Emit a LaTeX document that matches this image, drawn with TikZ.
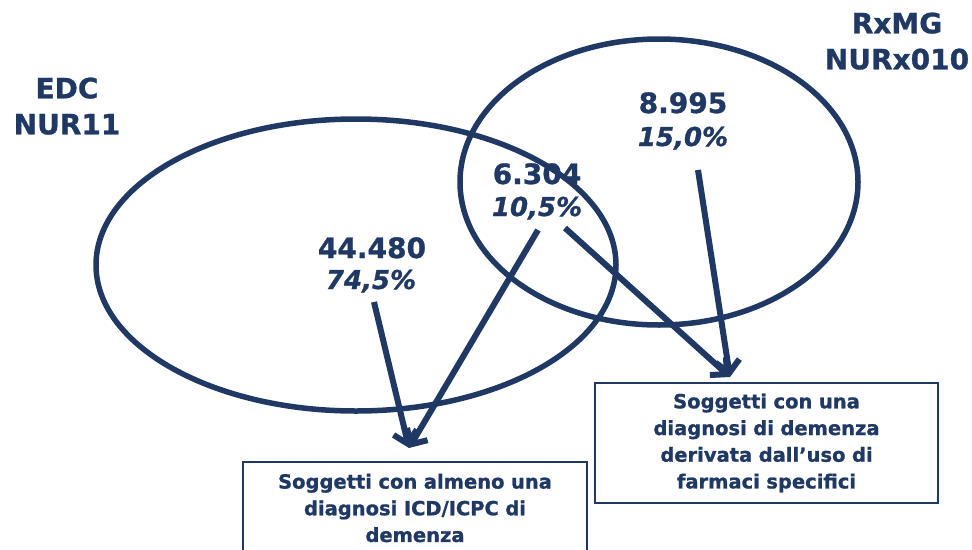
\documentclass[tikz,border=0pt]{standalone}
\usepackage{fontspec}
\setmainfont{DejaVu Sans}[BoldFeatures={FakeBold=1}, BoldItalicFeatures={FakeBold=1}]
\usetikzlibrary{arrows.meta,shapes.geometric}
\definecolor{navy}{RGB}{31,56,100}
\begin{document}
\begin{tikzpicture}[x=1pt,y=-1pt,
  ring/.style={ellipse,draw=navy,line width=5.5pt,inner sep=0pt},
  title/.style={text=navy,font=\fontsize{28}{36}\selectfont\bfseries,align=center,anchor=north},
  num/.style={text=navy,font=\fontsize{28}{32}\selectfont\bfseries,anchor=base},
  pct/.style={text=navy,font=\fontsize{26}{30}\selectfont\bfseries\itshape,anchor=base},
  box/.style={draw=navy,line width=1.5pt,fill=white,text=navy,align=center,
    font=\fontsize{19.5}{26.7}\selectfont\bfseries,inner sep=0pt},
  arr/.style={draw=navy,line width=6pt,-{Straight Barb[length=12pt,width=24pt]}}
]
\useasboundingbox (0,0) rectangle (972,549);
\clip (0,0) rectangle (972,549);

\node[ring,minimum width=520pt,minimum height=292pt] (edc) at (356,265) {};
\node[ring,minimum width=398pt,minimum height=286pt] (rx) at (659,182) {};

\node[title] (tedc) at (67,74) {EDC\\NUR11};
\node[title] (trx) at (897,9) {RxMG\\NURx010};

\node[num] (n1) at (372,258) {44.480};
\node[pct] (p1) at (371,289) {74,5\%};
\node[num] (n2) at (537,184) {6.304};
\node[pct] (p2) at (537,216) {10,5\%};
\node[num] (n3) at (683,113) {8.995};
\node[pct] (p3) at (683,146) {15,0\%};

\node[box,minimum width=344pt,minimum height=92pt,text width=330pt] (b1) at (415,508)
  {Soggetti con almeno una\\diagnosi ICD/ICPC di\\demenza};
\node[box,minimum width=343pt,minimum height=120pt,text width=330pt] (b2) at (766.5,443)
  {Soggetti con una\\diagnosi di demenza\\derivata dall’uso di\\farmaci specifici};

\coordinate (s1) at (374,302);
\coordinate (s2) at (538,230);
\coordinate (s3) at (565,228);
\coordinate (s4) at (698,170);
\coordinate (e1) at (409,448);
\coordinate (e2) at (730,377);

\draw[arr] (s1) -- (e1);
\draw[arr] (s2) -- (e1);
\draw[arr] (s3) -- (e2);
\draw[arr] (s4) -- (e2);
\end{tikzpicture}
\end{document}
